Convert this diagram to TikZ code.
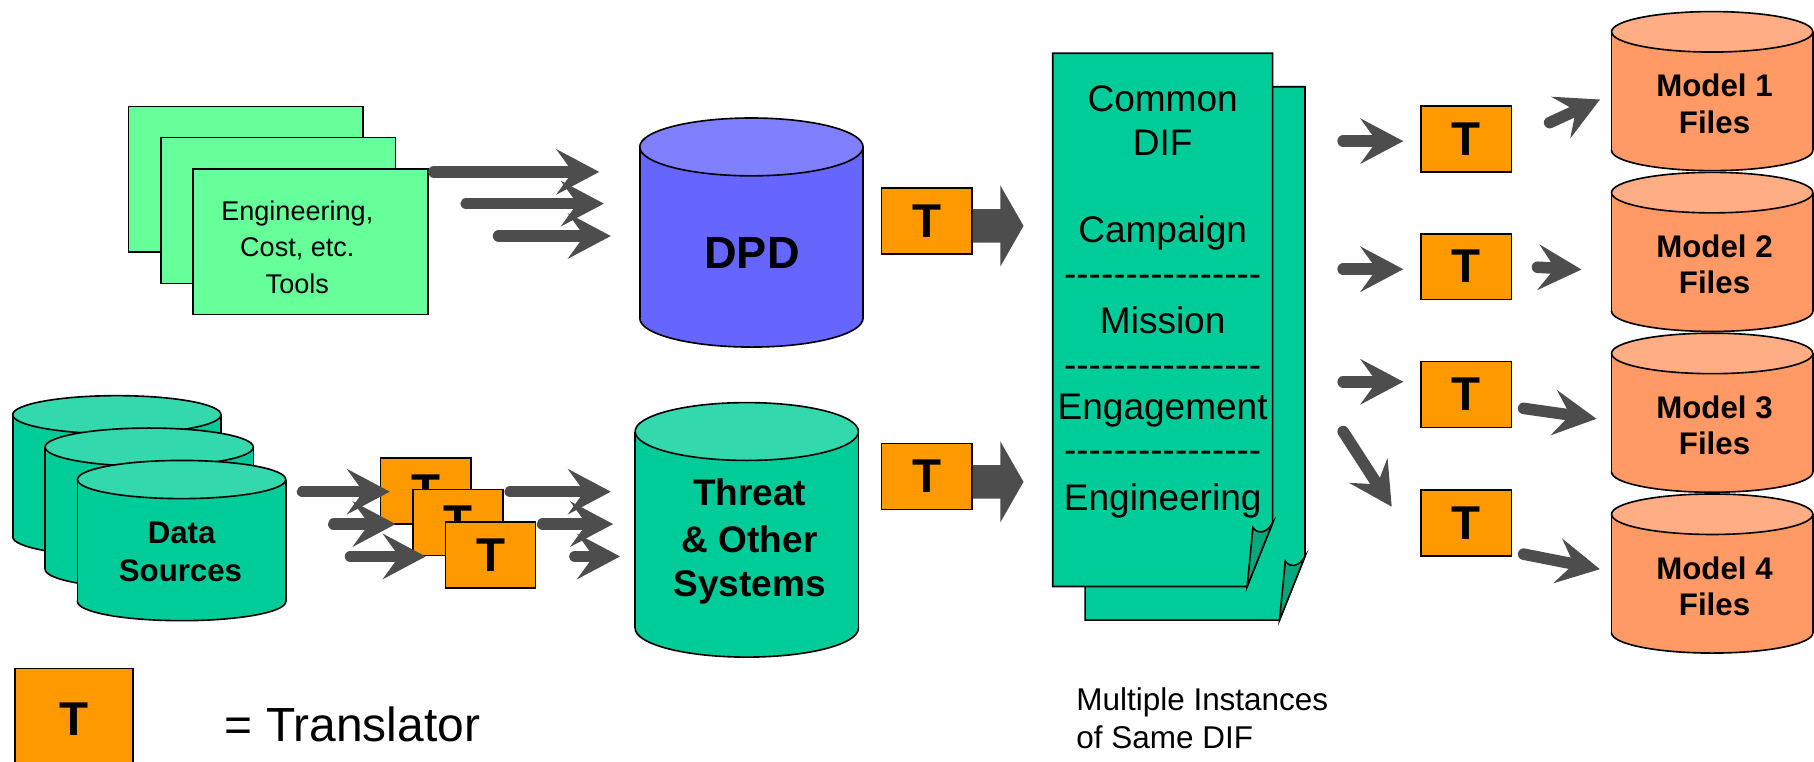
\documentclass[tikz,border=0pt]{standalone}
\usepackage{fontspec}
\setmainfont{Liberation Sans}
\usetikzlibrary{arrows.meta, calc, positioning}
\definecolor{mytoolgreen}{RGB}{102,255,153}
\definecolor{mysea}{RGB}{0,204,153}
\definecolor{myseatop}{RGB}{51,217,173}
\definecolor{myseafold}{RGB}{0,168,126}
\definecolor{mydpdblue}{RGB}{102,102,255}
\definecolor{mydpdtop}{RGB}{128,128,255}
\definecolor{mymodel}{RGB}{255,153,102}
\definecolor{mymodeltop}{RGB}{255,173,133}
\definecolor{myorange}{RGB}{255,153,0}
\definecolor{mygrey}{RGB}{77,77,77}
\tikzstyle{toolpage}=[draw, fill=mytoolgreen, line width=0.7pt, minimum
width=101.5pt, minimum height=63pt, inner sep=0pt]
\tikzstyle{tbox}=[draw, fill=myorange, line width=0.7pt, minimum width=39pt,
minimum height=28.5pt, inner sep=0pt, font=\fontsize{20.5}{24}\selectfont\bfseries]
\tikzstyle{flow}=[draw=mygrey, line width=5pt, line cap=round,
-{Stealth[length=18.5pt, width=19.5pt, inset=7pt]}]
\tikzstyle{tooltext}=[anchor=base, inner sep=0pt, font=\fontsize{11.7}{14}\selectfont]
\tikzstyle{doctext}=[anchor=base, inner sep=0pt, font=\fontsize{16}{19}\selectfont]
\tikzstyle{drumtext}=[anchor=base, inner sep=0pt, font=\fontsize{13.5}{16}\selectfont\bfseries]
\tikzstyle{bigdrumtext}=[anchor=base, inner sep=0pt, font=\fontsize{16}{19}\selectfont\bfseries]
\tikzstyle{notetext}=[anchor=base west, inner sep=0pt, font=\fontsize{13.6}{16}\selectfont]
% cylinder: x, top y, bottom y, x radius, y radius, body, top
\newcommand{\drum}[7]{%
\filldraw[fill=#6, line width=0.7pt] (#1,#3) ellipse [x radius=#4, y radius=#5];
\fill[#6] (#1-#4,#2) rectangle (#1+#4,#3);
\draw[line width=0.7pt] (#1-#4,#2) -- (#1-#4,#3) (#1+#4,#2) -- (#1+#4,#3);
\filldraw[fill=#7, line width=0.7pt] (#1,#2) ellipse [x radius=#4, y radius=#5];
}
% one page of the DIF
\newcommand{\difpage}[2]{%
\begin{scope}[shift={(#1,#2)}]
\filldraw[fill=mysea, line width=0.7pt] (0,0) -- (190,0) -- (190,406) -- (168,461)
-- (0,461) -- cycle;
\filldraw[fill=myseafold, line width=0.7pt] (173,410) .. controls (177,416) and
(185,415) .. (190,406) -- (168,461) -- cycle;
\end{scope}
}
\newcommand{\dashrow}{-\kern0pt-\kern0pt-\kern0pt-\kern0pt-\kern0pt-\kern0pt-\kern0pt-\kern0pt-\kern0pt-\kern0pt-\kern0pt-\kern0pt-\kern0pt-\kern0pt-\kern0pt-}

\begin{document}
\begin{tikzpicture}[x=0.5pt, y=-0.5pt]
\useasboundingbox (0,0) rectangle (1568,658);

% tools
\draw (212.5, 155) node [toolpage] (tool1) {};
\draw (240.5, 182) node [toolpage] (tool2) {};
\draw (268.5, 209) node [toolpage] (tool3) {};
\draw (257, 190.4) node [tooltext] (tooltxt1) {Engineering,};
\draw (257, 221.4) node [tooltext] (tooltxt2) {Cost, etc.};
\draw (257, 253.4) node [tooltext] (tooltxt3) {Tools};
\coordinate (tl1) at (375, 148.6);
\coordinate (tl2) at (403, 176);
\coordinate (tl3) at (431, 204);
\coordinate (dp1) at (518, 148.6);
\coordinate (dp2) at (522, 176);
\coordinate (dp3) at (528, 204);
\draw[flow] (tl1) -- (dp1);
\draw[flow] (tl2) -- (dp2);
\draw[flow] (tl3) -- (dp3);

% DPD
\drum{649.5}{127}{275}{96.5}{25}{mydpdblue}{mydpdtop}
\draw (650, 232) node [anchor=base, inner sep=0pt,
font=\fontsize{19.5}{23}\selectfont\bfseries] (dpd) {DPD};

% data sources
\drum{101}{358.5}{464}{90}{16.5}{mysea}{myseatop}
\drum{129}{386.5}{492}{90}{16.5}{mysea}{myseatop}
\drum{157}{414.5}{520}{90}{16.5}{mysea}{myseatop}
\draw (157, 470) node [drumtext] (data1) {Data};
\draw (156, 503) node [drumtext] (data2) {Sources};

% translators of the data sources
\draw (368, 424.5) node [tbox] (tds1) {T};
\draw (396, 451.5) node [tbox] (tds2) {T};
\draw (424, 479.5) node [tbox] (tds3) {T};
\coordinate (ds1) at (261.5, 425);
\coordinate (ds2) at (288.5, 453);
\coordinate (ds3) at (303, 481);
\coordinate (dt1) at (337, 425);
\coordinate (dt2) at (342, 453);
\coordinate (dt3) at (368, 481);
\draw[flow] (ds1) -- (dt1);
\draw[flow] (ds2) -- (dt2);
\draw[flow] (ds3) -- (dt3);
\coordinate (ts1) at (441, 425);
\coordinate (ts2) at (469, 453);
\coordinate (ts3) at (497, 481);
\coordinate (th1) at (528, 425);
\coordinate (th2) at (530, 453);
\coordinate (th3) at (536, 481);
\draw[flow] (ts1) -- (th1);
\draw[flow] (ts2) -- (th2);
\draw[flow] (ts3) -- (th3);

% threat
\drum{645.5}{373}{543}{96.5}{25}{mysea}{myseatop}
\draw (648, 437) node [bigdrumtext] (thr1) {Threat};
\draw (648, 478) node [bigdrumtext] (thr2) {\& Other};
\draw (648, 516) node [bigdrumtext] (thr3) {Systems};

% into the DIF
\draw (801, 190.8) node [tbox] (tdpd) {T};
\draw (801, 412) node [tbox] (tthr) {T};
\fill[mygrey] (tdpd.east) ++(0,-10) -- ++(24,0) -- ++(0,-20.5) -- ++(20,35)
-- ++(-20,35) -- ++(0,-20.5) -- ++(-24,0) -- cycle;
\fill[mygrey] (tthr.east) ++(0,-10) -- ++(24,0) -- ++(0,-20.5) -- ++(20,35)
-- ++(-20,35) -- ++(0,-20.5) -- ++(-24,0) -- cycle;

% DIF
\difpage{938}{75}
\difpage{910}{46}
\draw (1005, 96) node [doctext] (dif1) {Common};
\draw (1005, 134) node [doctext] (dif2) {DIF};
\draw (1005, 210) node [doctext] (dif3) {Campaign};
\draw (1005, 248) node [doctext] (sep1) {\dashrow};
\draw (1005, 288) node [doctext] (dif4) {Mission};
\draw (1005, 326) node [doctext] (sep2) {\dashrow};
\draw (1005, 363) node [doctext] (dif5) {Engagement};
\draw (1005, 400) node [doctext] (sep3) {\dashrow};
\draw (1005, 441) node [doctext] (dif6) {Engineering};

% out of the DIF
\draw (1267.5, 120) node [tbox] (tr1) {T};
\draw (1267.5, 230.5) node [tbox] (tr2) {T};
\draw (1267.5, 341) node [tbox] (tr3) {T};
\draw (1267.5, 452) node [tbox] (tr4) {T};
\coordinate (dx1) at (1161, 122);
\coordinate (dx2) at (1161, 232.7);
\coordinate (dx3) at (1161, 330);
\coordinate (dx4) at (1161, 373);
\coordinate (rt1) at (1213, 122);
\coordinate (rt2) at (1213, 232.7);
\coordinate (rt3) at (1213, 330);
\coordinate (rt4) at (1203, 438);
\draw[flow] (dx1) -- (rt1);
\draw[flow] (dx2) -- (rt2);
\draw[flow] (dx3) -- (rt3);
\draw[flow] (dx4) -- (rt4);
\coordinate (rs1) at (1339.5, 106);
\coordinate (rs2) at (1329, 231);
\coordinate (rs3) at (1317, 353);
\coordinate (rs4) at (1317, 479);
\coordinate (md1) at (1383, 86);
\coordinate (md2) at (1367, 233);
\coordinate (md3) at (1380, 362);
\coordinate (md4) at (1383, 492);
\draw[flow] (rs1) -- (md1);
\draw[flow] (rs2) -- (md2);
\draw[flow] (rs3) -- (md3);
\draw[flow] (rs4) -- (md4);

% model files
\drum{1480}{27.5}{130}{87}{17.5}{mymodel}{mymodeltop}
\drum{1480}{166.5}{269}{87}{17.5}{mymodel}{mymodeltop}
\drum{1480}{305.5}{408}{87}{17.5}{mymodel}{mymodeltop}
\drum{1480}{444.5}{547}{87}{17.5}{mymodel}{mymodeltop}
\draw (1482, 83.6) node [drumtext] (m1a) {Model 1};
\draw (1482, 115) node [drumtext] (m1b) {Files};
\draw (1482, 222.6) node [drumtext] (m2a) {Model 2};
\draw (1482, 254) node [drumtext] (m2b) {Files};
\draw (1482, 361.6) node [drumtext] (m3a) {Model 3};
\draw (1482, 393) node [drumtext] (m3b) {Files};
\draw (1482, 500.6) node [drumtext] (m4a) {Model 4};
\draw (1482, 532) node [drumtext] (m4b) {Files};

% legend and note
\draw (64, 622) node [tbox, minimum width=51pt, minimum height=44pt] (tkey) {T};
\draw (194, 641) node [anchor=base west, inner sep=0pt,
font=\fontsize{20.7}{24}\selectfont] (keytxt) {= Translator};
\draw (930, 614) node [notetext] (note1) {Multiple Instances};
\draw (930, 647) node [notetext] (note2) {of Same DIF};
\end{tikzpicture}
\end{document}
